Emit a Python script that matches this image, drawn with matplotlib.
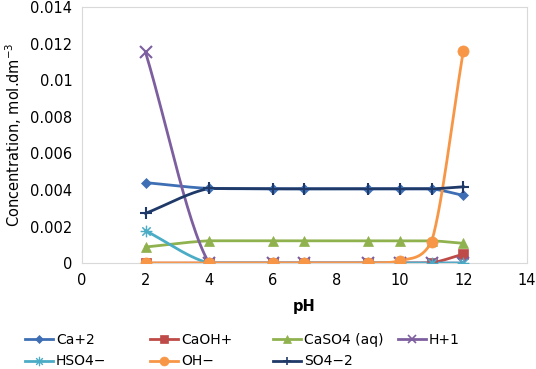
import numpy as np
import matplotlib
matplotlib.use("Agg")
import matplotlib.pyplot as plt
from matplotlib.lines import Line2D

# ============================================================
# Data
# ============================================================
ph = [2, 4, 6, 7, 9, 10, 11, 12]

ca2   = [0.00440, 0.00408, 0.00406, 0.00406, 0.00406, 0.00406, 0.00406, 0.00370]
caoh  = [0.0, 0.0, 0.0, 0.0, 0.0, 0.0, 0.00002, 0.00049]
caso4 = [0.00088, 0.00122, 0.00122, 0.00122, 0.00122, 0.00122, 0.00122, 0.00108]
h1    = [0.01152, 0.0, 0.0, 0.0, 0.0, 0.0, 0.0, 0.0]
hso4  = [0.00177, 0.0, 0.0, 0.0, 0.0, 0.0, 0.0, 0.0]
oh    = [0.0, 0.0, 0.0, 0.0, 0.0, 0.00012, 0.00116, 0.01160]
so4   = [0.00272, 0.00408, 0.00406, 0.00406, 0.00406, 0.00406, 0.00406, 0.00417]

labels = ["Ca+2", "CaOH+", "CaSO4 (aq)", "H+1", "HSO4\u2212", "OH\u2212", "SO4\u22122"]
series = [ca2, caoh, caso4, h1, hso4, oh, so4]

# ============================================================
# Styles
# ============================================================
colors = ["#3E6FB4", "#BE4B48", "#8FB24F", "#7D5FA0", "#4BACC6", "#F79646", "#1F3A68"]
markers = ["D", "s", "^", "x", "$\u2733$", "o", "+"]
msizes = [5, 7, 7, 8, 8, 8, 8]


# Excel-like smoothed line (Bezier through the points)
def smooth(x, y, n=30):
    x = np.asarray(x, float)
    y = np.asarray(y, float)
    px = np.concatenate([[2*x[0]-x[1]], x, [2*x[-1]-x[-2]]])
    py = np.concatenate([[2*y[0]-y[1]], y, [2*y[-1]-y[-2]]])
    xs, ys = [], []
    t = np.linspace(0, 1, n)
    for i in range(1, len(px)-2):
        p0x, p1x, p2x, p3x = px[i-1:i+3]
        p0y, p1y, p2y, p3y = py[i-1:i+3]
        k = 1/6
        c1x, c1y = p1x + (p2x - p0x)*k, p1y + (p2y - p0y)*k
        c2x, c2y = p2x - (p3x - p1x)*k, p2y - (p3y - p1y)*k
        # keep control points within the segment's y range (no dips)
        lo, hi = min(p1y, p2y), max(p1y, p2y)
        c1y = np.clip(c1y, lo, hi)
        c2y = np.clip(c2y, lo, hi)
        bx = (1-t)**3*p1x + 3*(1-t)**2*t*c1x + 3*(1-t)*t**2*c2x + t**3*p2x
        by = (1-t)**3*p1y + 3*(1-t)**2*t*c1y + 3*(1-t)*t**2*c2y + t**3*p2y
        xs.append(bx)
        ys.append(by)
    return np.concatenate(xs), np.concatenate(ys)


plt.rcParams["font.family"] = ["DejaVu Sans"]

fig = plt.figure(figsize=(5.36, 3.69), dpi=100)
ax = fig.add_axes([0.153, 0.287, 0.830, 0.694])

for vals, c, m, ms in zip(series, colors, markers, msizes):
    sx, sy = smooth(ph, vals)
    ax.plot(sx, sy, color=c, lw=2, zorder=2)
    mew = 1.5 if m in ("x", "+") else 0.5
    ax.plot(ph, vals, ls="none", marker=m, ms=ms, color=c, mew=mew, zorder=3)

ax.set_xlim(0, 14)
ax.set_ylim(0, 0.014)
ax.set_xticks(np.arange(0, 15, 2))
ax.set_yticks(np.arange(0, 0.0141, 0.002))
ax.set_yticklabels(["0", "0.002", "0.004", "0.006", "0.008", "0.01", "0.012", "0.014"])
ax.tick_params(length=0, labelsize=10.5, pad=7)
for s in ax.spines.values():
    s.set_color("#D9D9D9")
ax.set_xlabel("pH", fontsize=10.5, fontweight="bold", labelpad=8)
ax.set_ylabel("Concentration, mol.dm$^{-3}$", fontsize=10.5, labelpad=4)

handles = []
for lab, c, m, ms in zip(labels, colors, markers, msizes):
    mew = 1.2 if m in ("x", "+") else 0.5
    handles.append(Line2D([0], [0], color=c, lw=2, marker=m, ms=ms*0.8, mew=mew, label=lab))

# legend laid out row by row in four fixed-width columns
col_x = [22, 147, 270, 395]
for j, x0 in enumerate(col_x):
    hs = handles[j::4]
    fig.legend(handles=hs, loc="upper left", bbox_to_anchor=(x0/536 - 0.012, 1 - 323/369),
               frameon=False, fontsize=10, handlelength=2.0, handletextpad=0.2,
               labelspacing=0.55, borderpad=0.2)

fig.savefig("out.png", dpi=100)
